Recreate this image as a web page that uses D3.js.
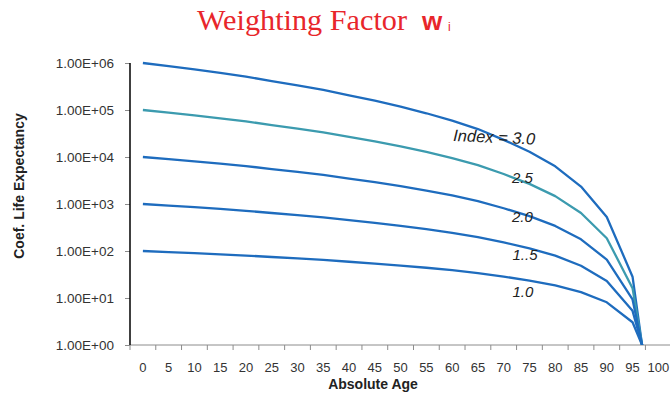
<!DOCTYPE html>
<html>
<head>
<meta charset="utf-8">
<script src="https://cdn.jsdelivr.net/npm/d3@7"></script>
<style>
  html, body { margin: 0; padding: 0; background: #fff; }
  svg { display: block; }
</style>
</head>
<body>
<svg id="chart" width="670" height="399"></svg>
<script>
// ---- data ----
const ages = [0,5,10,15,20,25,30,35,40,45,50,55,60,65,70,75,80,85,90,95,100];
const yTicks = [1, 10, 100, 1000, 10000, 100000, 1000000];
const index30 = [1000000, 857000, 729000, 614000, 512000, 413500, 335700, 268300, 205400, 157500, 117600, 85200, 59300, 39300, 23150, 12980, 6330, 2350, 531, 28.4, 0.0034];
const index25 = [100000, 88000, 76800, 66600, 57200, 47900, 40300, 33400, 26700, 21400, 16800, 12800, 9500, 6740, 4340, 2680, 1470, 645, 187, 16.2, 0.0087];
const index20 = [10000, 9025, 8100, 7225, 6400, 5550, 4830, 4160, 3481, 2916, 2401, 1936, 1521, 1156, 812, 552, 342, 177, 65.6, 9.3, 0.0225];
const index15 = [1000, 926, 854, 784, 716, 643, 579, 518, 453, 397, 343, 292, 244, 198, 152, 114, 79.6, 48.5, 23.1, 5.33, 0.058];
const index10 = [100, 95, 90, 85, 80, 74.5, 69.5, 64.5, 59, 54, 49, 44, 39, 34, 28.5, 23.5, 18.5, 13.3, 8.1, 3.05, 0.15];
const seriesNames = ["3.0", "2.5", "2.0", "1.5", "1.0"];
const seriesLabels = ["Index = 3.0", "2.5", "2.0", "1..5", "1.0"];
const title = "Weighting Factor";
const xTitle = "Absolute Age";
const yTitle = "Coef. Life Expectancy";

(function () {
// ---- layout ----
const svg = d3.select("#chart");
const pL = 130, pR = 671.2, pT = 63, pB = 345;
const blue = "#1E6CBE", teal = "#3C9BAF";
const colors = [blue, teal, blue, blue, blue];
const seriesValues = [index30, index25, index20, index15, index10];

const x = d3.scaleBand().domain(ages).range([pL, pR]).paddingInner(0).paddingOuter(0);
const y = d3.scaleLog().domain([1, 1e6]).range([pB, pT]);
const cx = a => x(a) + x.bandwidth() / 2;

// clip
svg.append("defs").append("clipPath").attr("id", "plotclip")
  .append("rect").attr("x", pL).attr("y", pT - 10).attr("width", pR - pL).attr("height", pB - pT + 10);

// x axis
const gx = svg.append("g").attr("transform", `translate(0,${pB})`);
gx.append("line").attr("x1", pL).attr("x2", pR).attr("y1", 0).attr("y2", 0)
  .attr("stroke", "#8c8c8c").attr("stroke-width", 1);
gx.selectAll("line.tk").data(ages.concat(["end"])).enter().append("line").attr("class", "tk")
  .attr("x1", (d, i) => pL + i * x.bandwidth()).attr("x2", (d, i) => pL + i * x.bandwidth())
  .attr("y1", 0).attr("y2", 5).attr("stroke", "#8c8c8c").attr("stroke-width", 1);
gx.selectAll("text.lbl").data(ages).enter().append("text").attr("class", "lbl")
  .attr("x", d => cx(d)).attr("y", 27)
  .attr("text-anchor", "middle")
  .attr("font-family", "Liberation Sans, Arial, sans-serif").attr("font-size", 13)
  .attr("fill", "#333").text(d => d);

// y axis
const yAxis = d3.axisLeft(y).tickValues(yTicks).tickSize(5).tickPadding(11)
  .tickFormat(d => "1.00E+" + String(Math.round(Math.log10(d))).padStart(2, "0"));
const gy = svg.append("g").attr("transform", `translate(${pL},0)`).call(yAxis);
gy.select(".domain").remove();
gy.selectAll(".tick line").attr("stroke", "#8c8c8c");
gy.selectAll(".tick text").attr("font-family", "Liberation Sans, Arial, sans-serif")
  .attr("font-size", 13.5).attr("fill", "#333");
gy.append("line").attr("x1", 0).attr("x2", 0).attr("y1", pT).attr("y2", pB)
  .attr("stroke", "#000").attr("stroke-width", 1.5);

// lines
const line = d3.line().x((d, i) => cx(ages[i])).y(d => y(d));
const gl = svg.append("g").attr("clip-path", "url(#plotclip)");
seriesValues.forEach((vals, k) => {
  gl.append("path").datum(vals).attr("d", line)
    .attr("fill", "none").attr("stroke", colors[k]).attr("stroke-width", 2.3)
    .attr("stroke-linejoin", "round");
});

// series labels
const lblPos = [[453, 141, 16.5, 2.5], [512, 183, 15, 0], [512, 221.5, 15, 0], [512.5, 260, 15, 0], [512.5, 297, 15, 0]];
seriesLabels.forEach((t, k) => {
  const p = lblPos[k];
  svg.append("text").attr("transform", `translate(${p[0]},${p[1]}) rotate(${p[3]})`)
    .attr("font-family", "Liberation Sans, Arial, sans-serif").attr("font-style", "italic")
    .attr("font-size", p[2]).attr("fill", "#222").text(t);
});

// titles
svg.append("text").attr("x", 373).attr("y", 389).attr("text-anchor", "middle")
  .attr("font-family", "Liberation Sans, Arial, sans-serif").attr("font-weight", "bold")
  .attr("font-size", 14).attr("fill", "#222").text(xTitle);
svg.append("text").attr("transform", "translate(24,186) rotate(-90)").attr("text-anchor", "middle")
  .attr("font-family", "Liberation Sans, Arial, sans-serif").attr("font-weight", "bold")
  .attr("font-size", 14).attr("fill", "#222").text(yTitle);

svg.append("text").attr("x", 197).attr("y", 30).attr("fill", "#E8262B")
  .attr("font-family", "Liberation Serif, Times New Roman, serif")
  .attr("font-size", 30).attr("textLength", 210).attr("lengthAdjust", "spacingAndGlyphs").text(title);
svg.append("text").attr("x", 422).attr("y", 30).attr("fill", "#E8262B")
  .attr("font-family", "Liberation Sans, Arial, sans-serif").attr("font-weight", "bold")
  .attr("font-size", 26).text("w");
svg.append("text").attr("x", 448).attr("y", 31).attr("fill", "#E8262B")
  .attr("font-family", "Liberation Sans, Arial, sans-serif")
  .attr("font-size", 12).text("i");
})();
</script>
</body>
</html>
